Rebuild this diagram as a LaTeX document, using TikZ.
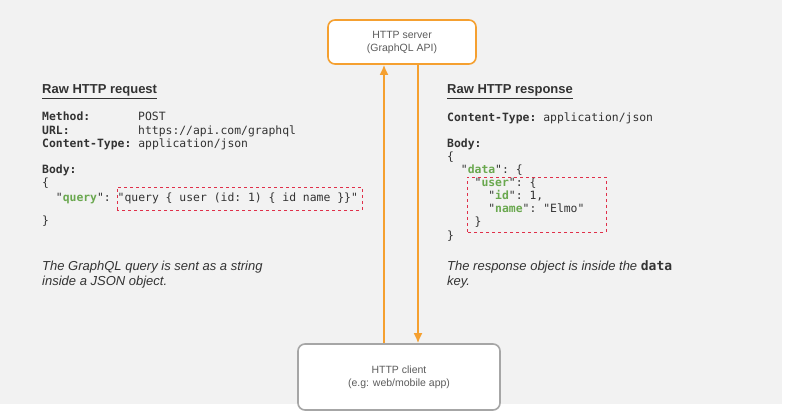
\documentclass[tikz,border=0pt]{standalone}
\usepackage{fontspec}
\setmainfont{Liberation Sans}
\setmonofont{DejaVu Sans Mono}
\usetikzlibrary{arrows.meta}
\begin{document}
\definecolor{bg}{HTML}{F2F2F2}
\definecolor{org}{HTML}{F5A030}
\definecolor{grn}{HTML}{6AA84F}
\definecolor{rd}{HTML}{E0304A}
\definecolor{txt}{HTML}{333333}
\begin{tikzpicture}[x=1pt,y=1pt,
  box/.style={draw,rounded corners=7pt,fill=white,line width=1.6pt,align=center,font=\fontsize{10.5}{13}\selectfont,text=txt!80},
  arr/.style={draw=org,line width=1.8pt,-{Latex[length=10pt,width=9pt]}},
  code/.style={anchor=base west,font=\ttfamily\fontsize{11.4}{12}\selectfont,text=txt,inner sep=0},
  ttl/.style={anchor=base west,font=\bfseries\fontsize{13}{14}\selectfont,text=txt,inner sep=0},
  note/.style={anchor=base west,font=\itshape\fontsize{13}{14}\selectfont,text=txt,inner sep=0},
  hl/.style={draw=rd,dashed,line width=0.9pt}]
\useasboundingbox (0,0) rectangle (800,420);
\fill[white] (0,0) rectangle (800,420);
\fill[bg] (0,16) rectangle (782,420);
\node[box,draw=org,minimum width=148pt,minimum height=44pt] (srv) at (402,378) {HTTP server\\(GraphQL API)};
\node[box,draw=gray!70,minimum width=202pt,minimum height=66pt] (cli) at (399,43) {HTTP client\\(e.g: web/mobile app)};
\draw[arr] (cli.north -| 384,0) -- (srv.south -| 384,0);
\draw[arr] (srv.south -| 418,0) -- (cli.north -| 418,0);
% left
\node[ttl] (t1) at (42,326) {\underline{Raw HTTP request}};
\node[code] (l1) at (42,299) {\textbf{Method:}};
\node[code] (l1b) at (138,299) {POST};
\node[code] (l2) at (42,285) {\textbf{URL:}};
\node[code] (l2b) at (138,285) {https://api.com/graphql};
\node[code] (l3) at (42,272) {\textbf{Content-Type:} application/json};
\node[code] (l4) at (42,246) {\textbf{Body:}};
\node[code] (l5) at (42,233) {\{};
\node[code] (l6) at (42,218) {\ \ "\textcolor{grn}{\textbf{query}}": "query \{ user (id: 1) \{ id name \}\}"};
\node[code] (l7) at (42,195) {\}};
\draw[hl] (117,210) rectangle (362,233);
\node[note] (n1) at (42,149) {The GraphQL query is sent as a string};
\node[note] (n1b) at (42,134) {inside a JSON object.};
% right
\node[ttl] (t2) at (447,326) {\underline{Raw HTTP response}};
\node[code] (r1) at (447,298) {\textbf{Content-Type:} application/json};
\node[code] (r2) at (447,272) {\textbf{Body:}};
\node[code] (r3) at (447,259) {\{};
\node[code] (r4) at (447,246) {\ \ "\textcolor{grn}{\textbf{data}}": \{};
\node[code] (r5) at (447,233) {\ \ \ \ "\textcolor{grn}{\textbf{user}}": \{};
\node[code] (r6) at (447,220) {\ \ \ \ \ \ "\textcolor{grn}{\textbf{id}}": 1,};
\node[code] (r7) at (447,207) {\ \ \ \ \ \ "\textcolor{grn}{\textbf{name}}": "Elmo"};
\node[code] (r8) at (447,194) {\ \ \ \ \}};
\node[code] (r9) at (447,180) {\}};
\draw[hl] (467,188) rectangle (606,243);
\node[note] (n2) at (447,149) {The response object is inside the {\upshape\ttfamily\bfseries data}};
\node[note] (n2b) at (447,134) {key.};
\end{tikzpicture}
\end{document}
